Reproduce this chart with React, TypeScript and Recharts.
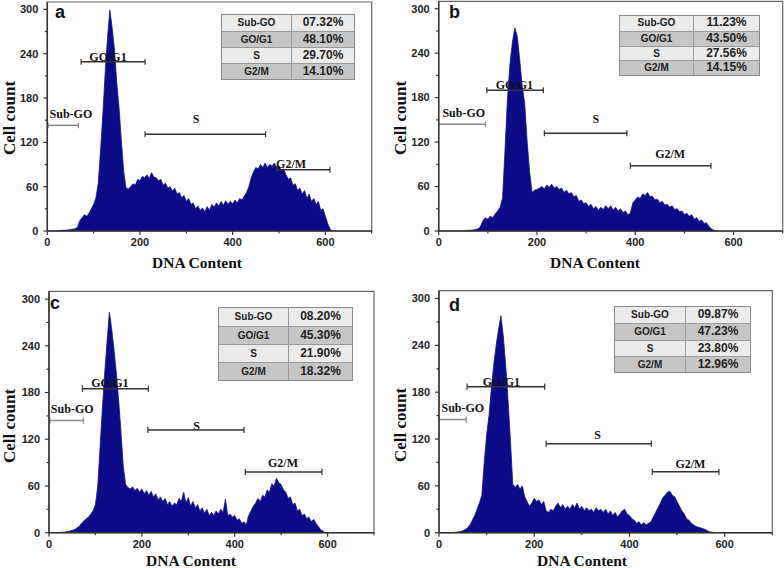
import React from 'react';
import { AreaChart, Area, XAxis, YAxis, ReferenceLine, ReferenceDot, ReferenceArea } from 'recharts';

// DNA content (x) vs cell count (y)
const HIST_A: [number, number][] = [
  [0,0],[5,0],[10,0],[15,0],[20,0.3],[25,0.5],[30,0.7],[35,1],[40,1],[45,1.5],[50,2],[55,2.5],[60,3],[65,5],[70,14],[75,18],[80,22],[85,20],[90,24],[95,30],[100,36],[105,45],[110,65],[115,110],[120,160],[125,215],[130,262],[135,299],[140,275],[145,245],[150,200],[155,165],[160,120],[165,80],[170,58],[175,57],[180,60],[185,64],[190,62],[195,70],[200,68],[205,74],[210,72],[215,76],[220,71],[225,79],[230,73],[235,72],[240,68],[245,70],[250,62],[255,65],[260,58],[265,60],[270,54],[275,58],[280,50],[285,52],[290,45],[295,48],[300,40],[305,44],[310,36],[315,38],[320,30],[325,34],[330,28],[335,31],[340,26],[345,33],[350,28],[355,36],[360,32],[365,38],[370,34],[375,40],[380,35],[385,41],[390,36],[395,40],[400,37],[405,42],[410,38],[415,44],[420,42],[425,47],[430,52],[435,60],[440,72],[445,80],[450,86],[455,84],[460,90],[465,86],[470,92],[475,86],[480,90],[485,88],[490,92],[495,86],[500,88],[505,82],[510,84],[515,76],[520,70],[525,72],[530,62],[535,64],[540,55],[545,58],[550,50],[555,55],[560,44],[565,50],[570,40],[575,44],[580,36],[585,40],[590,28],[595,30],[600,20],[605,10],[610,3],[615,0],[620,0]
];
const HIST_B: [number, number][] = [
  [0,0],[5,0],[10,0],[15,0],[20,0],[25,0],[30,0],[35,0],[40,0],[45,0],[50,0.2],[55,0.5],[60,1],[65,1],[70,1.5],[75,2],[80,3],[85,6],[90,14],[95,18],[100,16],[105,20],[110,18],[115,23],[120,27],[125,32],[130,45],[135,110],[140,180],[145,225],[150,255],[155,274],[160,262],[165,230],[170,195],[175,172],[180,120],[185,80],[190,52],[195,55],[200,56],[205,58],[210,60],[215,57],[220,62],[225,59],[230,63],[235,58],[240,60],[245,56],[250,58],[255,52],[260,55],[265,50],[270,52],[275,46],[280,48],[285,40],[290,42],[295,37],[300,38],[305,33],[310,36],[315,30],[320,33],[325,28],[330,32],[335,29],[340,34],[345,30],[350,34],[355,28],[360,32],[365,27],[370,30],[375,25],[380,27],[385,22],[390,24],[395,38],[400,42],[405,46],[410,44],[415,50],[420,48],[425,52],[430,46],[435,47],[440,42],[445,43],[450,38],[455,40],[460,35],[465,36],[470,32],[475,34],[480,29],[485,30],[490,26],[495,27],[500,22],[505,24],[510,20],[515,22],[520,16],[525,18],[530,13],[535,15],[540,10],[545,11],[550,6],[555,3],[560,1],[565,0],[570,0]
];
const HIST_C: [number, number][] = [
  [0,0],[5,0],[10,0],[15,0],[20,0.2],[25,0.4],[30,0.6],[35,1],[40,1.5],[45,2],[50,3],[55,4],[60,6],[65,8],[70,12],[75,15],[80,18],[85,20],[90,24],[95,28],[100,36],[105,60],[110,110],[115,160],[120,205],[125,245],[130,283],[135,262],[140,235],[145,205],[150,170],[155,130],[160,85],[165,62],[170,58],[175,56],[180,59],[185,54],[190,57],[195,52],[200,56],[205,50],[210,54],[215,48],[220,53],[225,46],[230,50],[235,42],[240,46],[245,40],[250,44],[255,36],[260,40],[265,34],[270,38],[275,36],[280,44],[285,40],[290,52],[295,38],[300,45],[305,34],[310,40],[315,32],[320,36],[325,28],[330,32],[335,25],[340,30],[345,22],[350,26],[355,22],[360,28],[365,24],[370,30],[375,26],[380,43],[385,22],[390,24],[395,20],[400,22],[405,16],[410,18],[415,12],[420,14],[425,10],[430,22],[435,28],[440,34],[445,38],[450,44],[455,40],[460,48],[465,46],[470,55],[475,52],[480,63],[485,60],[490,70],[495,64],[500,62],[505,55],[510,52],[515,44],[520,46],[525,36],[530,38],[535,28],[540,30],[545,22],[550,24],[555,18],[560,20],[565,14],[570,17],[575,12],[580,8],[585,4],[590,2],[595,0],[600,0]
];
const HIST_D: [number, number][] = [
  [0,0],[5,0],[10,0],[15,0],[20,0],[25,0.2],[30,0.4],[35,0.6],[40,1],[45,1.5],[50,2.5],[55,4],[60,6],[65,10],[70,16],[75,22],[80,30],[85,38],[90,48],[95,90],[100,125],[105,150],[110,185],[115,215],[120,240],[125,260],[130,278],[135,252],[140,215],[145,170],[150,118],[155,62],[160,58],[165,62],[170,56],[175,60],[180,46],[185,40],[190,34],[195,38],[200,44],[205,40],[210,42],[215,36],[220,40],[225,28],[230,26],[235,30],[240,28],[245,34],[250,38],[255,32],[260,36],[265,30],[270,34],[275,30],[280,36],[285,32],[290,38],[295,30],[300,34],[305,28],[310,32],[315,28],[320,30],[325,26],[330,32],[335,28],[340,30],[345,26],[350,30],[355,24],[360,28],[365,22],[370,26],[375,20],[380,24],[385,28],[390,30],[395,24],[400,22],[405,18],[410,16],[415,12],[420,14],[425,10],[430,13],[435,10],[440,12],[445,14],[450,20],[455,26],[460,32],[465,38],[470,45],[475,48],[480,52],[485,53],[490,48],[495,46],[500,40],[505,34],[510,28],[515,24],[520,18],[525,16],[530,12],[535,10],[540,8],[545,7],[550,6],[555,5],[560,4],[565,2],[570,1],[575,0.5],[580,0],[585,0]
];

const PHASES = ['Sub-GO', 'GO/G1', 'S', 'G2/M'];
const PCT_A = ['07.32%', '48.10%', '29.70%', '14.10%'];
const PCT_B = ['11.23%', '43.50%', '27.56%', '14.15%'];
const PCT_C = ['08.20%', '45.30%', '21.90%', '18.32%'];
const PCT_D = ['09.87%', '47.23%', '23.80%', '12.96%'];

const X_TICKS = [0, 100, 200, 300, 400, 500, 600, 700];
const X_LABELS = [0, 200, 400, 600];
const Y_TICKS = [0, 30, 60, 90, 120, 150, 180, 210, 240, 270, 300];
const Y_LABELS = [0, 60, 120, 180, 240, 300];

type Gate = { name: string; from: number; to: number; level: number; lx: number; ly: number };
const GATES_A: Gate[] = [
  { name: 'Sub-GO', from: 2, to: 67, level: 143, lx: 51, ly: 159 },
  { name: 'GO/G1', from: 73, to: 211, level: 229, lx: 131, ly: 236 },
  { name: 'S', from: 211, to: 471, level: 131, lx: 321, ly: 152 },
  { name: 'G2/M', from: 495, to: 610, level: 83, lx: 526, ly: 91 },
];
const GATES_B: Gate[] = [
  { name: 'Sub-GO', from: 0, to: 95, level: 144, lx: 51, ly: 160 },
  { name: 'GO/G1', from: 98, to: 213, level: 190, lx: 154, ly: 197 },
  { name: 'S', from: 215, to: 383, level: 132, lx: 320, ly: 152 },
  { name: 'G2/M', from: 390, to: 554, level: 88, lx: 471, ly: 104 },
];
const GATES_C: Gate[] = [
  { name: 'Sub-GO', from: 2, to: 74, level: 144, lx: 50, ly: 159 },
  { name: 'GO/G1', from: 72, to: 214, level: 185, lx: 131, ly: 192 },
  { name: 'S', from: 213, to: 420, level: 132, lx: 318, ly: 137 },
  { name: 'G2/M', from: 423, to: 588, level: 78, lx: 504, ly: 90 },
];
const GATES_D: Gate[] = [
  { name: 'Sub-GO', from: 0, to: 57, level: 145, lx: 50, ly: 160 },
  { name: 'GO/G1', from: 59, to: 222, level: 187, lx: 131, ly: 193 },
  { name: 'S', from: 225, to: 446, level: 114, lx: 333, ly: 126 },
  { name: 'G2/M', from: 448, to: 588, level: 78, lx: 528, ly: 88 },
];

const SANS = 'Liberation Sans, Arial, sans-serif';
const SERIF = 'Liberation Serif, Times New Roman, serif';
const AXIS = '#333';

const XTick = (props: any) => {
  const { x, y, payload } = props;
  const v = payload.value;
  const major = X_LABELS.includes(v);
  return (
    <g>
      <line x1={x} x2={x} y1={y} y2={y + (major ? 4 : 2.5)} stroke={AXIS} strokeWidth={1.2} />
      {major && (
        <text x={x} y={y + 15} textAnchor="middle" fontSize={11} fontWeight="bold" fontFamily={SANS} fill="#222">{v}</text>
      )}
    </g>
  );
};

const YTick = (props: any) => {
  const { x, y, payload } = props;
  const v = payload.value;
  const major = Y_LABELS.includes(v);
  return (
    <g>
      <line x1={x - (major ? 4 : 2.5)} x2={x} y1={y} y2={y} stroke={AXIS} strokeWidth={1.2} />
      {major && (
        <text x={x - 9} y={y} dy="0.35em" textAnchor="end" fontSize={11} fontWeight="bold" fontFamily={SANS} fill="#222">{v}</text>
      )}
    </g>
  );
};

type Margin = { top: number; right: number; bottom: number; left: number };

function Panel({ hist, gates, left, top, margin }: { hist: [number, number][]; gates: Gate[]; left: number; top: number; margin: Margin }) {
  const data = hist.map(([x, y]) => ({ x, y }));
  return (
    <div style={{ position: 'absolute', left, top }}>
      <AreaChart width={392} height={284} data={data} margin={margin}>
        <XAxis type="number" dataKey="x" domain={[0, 700]} ticks={X_TICKS} interval={0} tick={XTick} tickLine={false}
          tickSize={0} tickMargin={0} height={30} axisLine={{ stroke: AXIS, strokeWidth: 1.5 }} allowDataOverflow />
        <YAxis type="number" domain={[0, 310]} ticks={Y_TICKS} interval={0} tick={YTick} tickLine={false}
          tickSize={0} tickMargin={0} width={40} axisLine={{ stroke: AXIS, strokeWidth: 1.5 }} allowDataOverflow />
        <ReferenceArea x1={0} x2={700} y1={0} y2={310} fill="none" stroke="#666" strokeWidth={1.2} />
        {gates.map((g) => (
          <ReferenceLine key={g.name + 'l'} segment={[{ x: g.from, y: g.level }, { x: g.to, y: g.level }]}
            stroke={g.name === 'Sub-GO' ? '#888' : '#333'} strokeWidth={1.5} />
        ))}
        {gates.map((g) => (
          <ReferenceLine key={g.name + 'c1'} segment={[{ x: g.from, y: g.level - 4 }, { x: g.from, y: g.level + 4 }]}
            stroke={g.name === 'Sub-GO' ? '#888' : '#333'} strokeWidth={1.2} />
        ))}
        {gates.map((g) => (
          <ReferenceLine key={g.name + 'c2'} segment={[{ x: g.to, y: g.level - 4 }, { x: g.to, y: g.level + 4 }]}
            stroke={g.name === 'Sub-GO' ? '#888' : '#333'} strokeWidth={1.2} />
        ))}
        <Area type="linear" dataKey="y" stroke="#14148e" strokeWidth={0.8} fill="#0b0b88" fillOpacity={1}
          isAnimationActive={false} dot={false} activeDot={false} />
        {gates.map((g) => (
          <ReferenceDot key={g.name + 't'} x={g.lx} y={g.ly} r={0}
            shape={(p: any) => (
              <text x={p.cx} y={p.cy} dy="0.35em" textAnchor="middle" fontSize={12} fontWeight="bold" fontFamily={SERIF} fill="#111">{g.name}</text>
            )} />
        ))}
      </AreaChart>
    </div>
  );
}

type Box = { x: number; y: number; w: number; h: number; split: number };

function StatsTable({ box, values }: { box: Box; values: string[] }) {
  const rowH = (box.h - 2) / 4;
  return (
    <div style={{ position: 'absolute', left: box.x, top: box.y, width: box.w, height: box.h, border: '1px solid #8a8a8a',
      boxSizing: 'border-box', fontFamily: SANS, fontWeight: 'bold', color: '#222' }}>
      {PHASES.map((p, i) => (
        <div key={p} style={{ display: 'flex', height: rowH, background: i % 2 ? '#c6c6c6' : '#ebebeb',
          borderTop: i ? '1px solid #9a9a9a' : 'none', boxSizing: 'border-box' }}>
          <div style={{ width: box.split, borderRight: '1px solid #9a9a9a', textAlign: 'center', fontSize: 10,
            lineHeight: rowH - 1 + 'px' }}>{p}</div>
          <div style={{ flex: 1, textAlign: 'center', fontSize: 12, lineHeight: rowH - 1 + 'px' }}>{values[i]}</div>
        </div>
      ))}
    </div>
  );
}

export default function App() {
  return (
    <div style={{ position: 'absolute', left: 0, top: 0, width: 784, height: 568, background: '#fff', overflow: 'hidden' }}>
      <Panel hist={HIST_A} gates={GATES_A} left={0} top={0} margin={{ top: 2, right: 20.3, bottom: 23, left: 7.3 }} />
      <Panel hist={HIST_B} gates={GATES_B} left={392} top={0} margin={{ top: 1.3, right: 1.3, bottom: 23, left: 6.7 }} />
      <Panel hist={HIST_C} gates={GATES_C} left={0} top={284} margin={{ top: 7.3, right: 18, bottom: 5.3, left: 9 }} />
      <Panel hist={HIST_D} gates={GATES_D} left={392} top={284} margin={{ top: 6.7, right: 11.7, bottom: 5.3, left: 7 }} />

      <StatsTable box={{ x: 221, y: 14, w: 134, h: 66, split: 69 }} values={PCT_A} />
      <StatsTable box={{ x: 619, y: 15, w: 141, h: 61, split: 73 }} values={PCT_B} />
      <StatsTable box={{ x: 218, y: 307, w: 135, h: 74, split: 69 }} values={PCT_C} />
      <StatsTable box={{ x: 614, y: 306, w: 137, h: 67, split: 70 }} values={PCT_D} />

      <svg width={784} height={568} style={{ position: 'absolute', left: 0, top: 0, pointerEvents: 'none' }}>
        <g fontFamily={SANS} fontWeight="bold" fontSize={18} fill="#111">
          <text x={55} y={18}>a</text>
          <text x={449} y={18}>b</text>
          <text x={50} y={309}>c</text>
          <text x={449} y={311}>d</text>
        </g>
        <g fontFamily={SERIF} fontWeight="bold" fontSize={17} fill="#111" textAnchor="middle">
          <text transform="translate(15,118) rotate(-90)">Cell count</text>
          <text transform="translate(406,118) rotate(-90)">Cell count</text>
          <text transform="translate(15,426) rotate(-90)">Cell count</text>
          <text transform="translate(406,425) rotate(-90)">Cell count</text>
        </g>
        <g fontFamily={SERIF} fontWeight="bold" fontSize={15.5} fill="#111" textAnchor="middle">
          <text x={197} y={268}>DNA Content</text>
          <text x={595} y={268}>DNA Content</text>
          <text x={191} y={566}>DNA Content</text>
          <text x={582} y={566}>DNA Content</text>
        </g>
      </svg>
    </div>
  );
}
